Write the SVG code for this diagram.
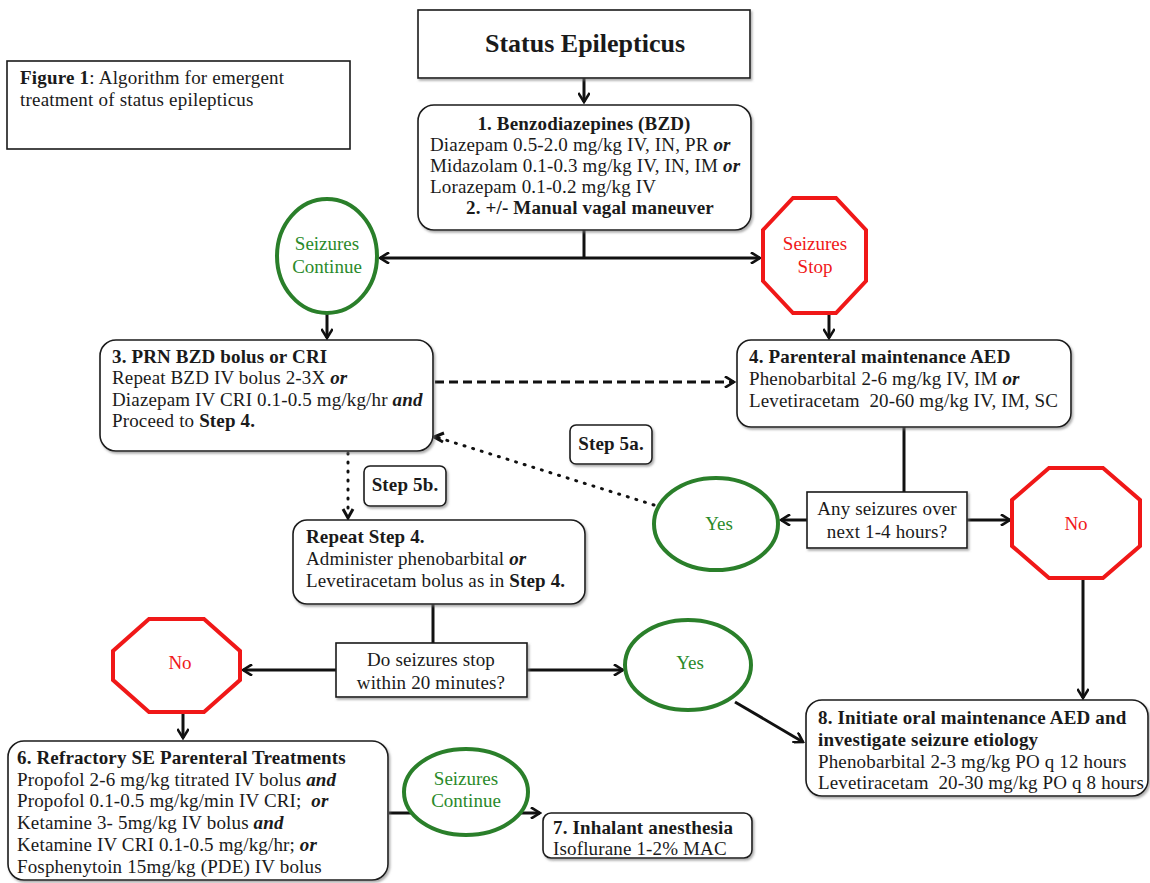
<svg xmlns="http://www.w3.org/2000/svg" width="1150" height="883" viewBox="0 0 1150 883">
<defs>
<style>
text{font-family:"Liberation Serif","Times New Roman",serif;fill:#1a1a1a;}
.t{font-size:19px;letter-spacing:0.15px;}
.pre{white-space:pre;}
.b{font-weight:bold;}
.bi{font-weight:bold;font-style:italic;}
.box{fill:#fff;stroke:#1a1a1a;stroke-width:1.6;filter:url(#sh);}
.plain{fill:#fff;stroke:#1a1a1a;stroke-width:1.6;}
.go{fill:#fff;stroke:#2a7f2a;stroke-width:4;}
.stop{fill:#fff;stroke:#f01818;stroke-width:4;}
.gt{fill:#2a8a2a;font-size:19px;}
.rt{fill:#f01818;font-size:19px;}
.c{fill:none;stroke:#111;stroke-width:3;}
.dash{stroke-dasharray:9 5;}
.dot{stroke-dasharray:1 8;stroke-linecap:round;}
</style>
<filter id="sh" x="-10%" y="-10%" width="120%" height="130%">
<feDropShadow dx="1.5" dy="2" stdDeviation="1" flood-color="#777" flood-opacity="0.6"/>
</filter>
<marker id="ah" viewBox="0 0 12 12" refX="10" refY="6" markerWidth="4" markerHeight="4" orient="auto-start-reverse" markerUnits="strokeWidth">
<path d="M2,1 L10,6 L2,11" fill="none" stroke="#111" stroke-width="2.6" stroke-linecap="square"/>
</marker>
</defs>

<g id="figure-caption">
<rect x="7" y="61" width="343" height="88" class="plain"/>
<text x="20" y="84" style="font-size:19px;letter-spacing:0.2px"><tspan class="b">Figure 1</tspan>: Algorithm for emergent</text>
<text x="20" y="106" style="font-size:19px;letter-spacing:0.2px">treatment of status epilepticus</text>
</g>

<g id="connectors">
<line x1="584" y1="78" x2="584" y2="102" class="c" marker-end="url(#ah)"/>
<line x1="584" y1="230" x2="584" y2="258" class="c"/>
<line x1="380" y1="258" x2="760" y2="258" class="c" marker-start="url(#ah)" marker-end="url(#ah)"/>
<line x1="327" y1="314" x2="327" y2="338" class="c" marker-end="url(#ah)"/>
<line x1="829" y1="314" x2="829" y2="338" class="c" marker-end="url(#ah)"/>
<line x1="435" y1="382" x2="734" y2="382" class="c dash" marker-end="url(#ah)"/>
<line x1="654" y1="505" x2="436" y2="437" class="c dot"/>
<path d="M444,433 L434,437 L443,442" fill="none" stroke="#111" stroke-width="3"/>
<line x1="348" y1="453" x2="348" y2="510" class="c dot"/>
<path d="M343,509 L348,518 L353,509" fill="none" stroke="#111" stroke-width="3"/>
<line x1="904" y1="427" x2="904" y2="492" class="c"/>
<line x1="807" y1="520" x2="781" y2="520" class="c" marker-end="url(#ah)"/>
<line x1="967" y1="520" x2="1010" y2="520" class="c" marker-end="url(#ah)"/>
<line x1="1083" y1="579" x2="1083" y2="698" class="c" marker-end="url(#ah)"/>
<line x1="433" y1="604" x2="433" y2="643" class="c"/>
<line x1="336" y1="670" x2="243" y2="670" class="c" marker-end="url(#ah)"/>
<line x1="527" y1="670" x2="623" y2="670" class="c" marker-end="url(#ah)"/>
<line x1="735" y1="702" x2="803" y2="742" class="c" marker-end="url(#ah)"/>
<line x1="183" y1="713" x2="183" y2="738" class="c" marker-end="url(#ah)"/>
<line x1="389" y1="813" x2="540" y2="813" class="c" marker-end="url(#ah)"/>
</g>

<g id="status-epilepticus">
<rect x="418" y="10" width="332" height="68" class="box"/>
<text x="585" y="52" text-anchor="middle" class="b" style="font-size:26px">Status Epilepticus</text>
</g>

<g id="step1">
<rect x="418" y="105" width="333" height="125" rx="16" class="box"/>
<text x="584" y="130" text-anchor="middle" class="t b">1. Benzodiazepines (BZD)</text>
<text x="430" y="151" class="t">Diazepam 0.5-2.0 mg/kg IV, IN, PR <tspan class="bi">or</tspan></text>
<text x="430" y="172" class="t">Midazolam 0.1-0.3 mg/kg IV, IN, IM <tspan class="bi">or</tspan></text>
<text x="430" y="193" class="t">Lorazepam 0.1-0.2 mg/kg IV</text>
<text x="590" y="214" text-anchor="middle" class="t b">2. +/- Manual vagal maneuver</text>
</g>

<g id="seizures-continue-1">
<ellipse cx="327" cy="256" rx="50" ry="57" class="go"/>
<text x="327" y="250" text-anchor="middle" class="gt">Seizures</text>
<text x="327" y="273" text-anchor="middle" class="gt">Continue</text>
</g>

<g id="seizures-stop">
<polygon points="793,198 836,198 866,230 866,281 836,313 793,313 763,281 763,230" class="stop"/>
<text x="815" y="250" text-anchor="middle" class="rt">Seizures</text>
<text x="815" y="273" text-anchor="middle" class="rt">Stop</text>
</g>

<g id="step3">
<rect x="100" y="340" width="333" height="111" rx="16" class="box"/>
<text x="112" y="363" class="t b">3. PRN BZD bolus or CRI</text>
<text x="112" y="384" class="t">Repeat BZD IV bolus 2-3X <tspan class="bi">or</tspan></text>
<text x="112" y="406" class="t">Diazepam IV CRI 0.1-0.5 mg/kg/hr <tspan class="bi">and</tspan></text>
<text x="112" y="427" class="t">Proceed to <tspan class="b">Step 4.</tspan></text>
</g>

<g id="step4">
<rect x="737" y="340" width="334" height="87" rx="14" class="box"/>
<text x="749" y="363" class="t b">4. Parenteral maintenance AED</text>
<text x="749" y="385" class="t">Phenobarbital 2-6 mg/kg IV, IM <tspan class="bi">or</tspan></text>
<text x="749" y="407" class="t pre">Levetiracetam  20-60 mg/kg IV, IM, SC</text>
</g>

<g id="step5a-label">
<rect x="570" y="425" width="82" height="39" rx="6" class="box"/>
<text x="611" y="450" text-anchor="middle" class="t b">Step 5a.</text>
</g>

<g id="step5b-label">
<rect x="364" y="466" width="82" height="40" rx="6" class="box"/>
<text x="405" y="491" text-anchor="middle" class="t b">Step 5b.</text>
</g>

<g id="decision-1">
<rect x="807" y="492" width="160" height="56" class="box"/>
<text x="887" y="515" text-anchor="middle" class="t">Any seizures over</text>
<text x="887" y="538" text-anchor="middle" class="t">next 1-4 hours?</text>
</g>

<g id="yes-1">
<ellipse cx="716" cy="524" rx="62" ry="46" class="go"/>
<text x="719" y="530" text-anchor="middle" class="gt">Yes</text>
</g>

<g id="no-1">
<polygon points="1049,468 1103,468 1140,500 1140,546 1103,578 1049,578 1012,546 1012,500" class="stop"/>
<text x="1076" y="530" text-anchor="middle" class="rt">No</text>
</g>

<g id="repeat-step4">
<rect x="293" y="520" width="292" height="84" rx="14" class="box"/>
<text x="306" y="543" class="t b">Repeat Step 4.</text>
<text x="306" y="565" class="t">Administer phenobarbital <tspan class="bi">or</tspan></text>
<text x="306" y="587" class="t">Levetiracetam bolus as in <tspan class="b">Step 4.</tspan></text>
</g>

<g id="decision-2">
<rect x="336" y="643" width="191" height="54" class="box"/>
<text x="431" y="666" text-anchor="middle" class="t">Do seizures stop</text>
<text x="431" y="689" text-anchor="middle" class="t">within 20 minutes?</text>
</g>

<g id="no-2">
<polygon points="149,619 204,619 240,651 240,680 204,712 149,712 113,680 113,651" class="stop"/>
<text x="180" y="669" text-anchor="middle" class="rt">No</text>
</g>

<g id="yes-2">
<ellipse cx="688" cy="665" rx="63" ry="45" class="go"/>
<text x="690" y="669" text-anchor="middle" class="gt">Yes</text>
</g>

<g id="step6">
<rect x="8" y="741" width="380" height="139" rx="16" class="box"/>
<text x="17" y="764" class="t b">6. Refractory SE Parenteral Treatments</text>
<text x="17" y="786" class="t">Propofol 2-6 mg/kg titrated IV bolus <tspan class="bi">and</tspan></text>
<text x="17" y="807" class="t pre">Propofol 0.1-0.5 mg/kg/min IV CRI;  <tspan class="bi">or</tspan></text>
<text x="17" y="829" class="t">Ketamine 3- 5mg/kg IV bolus <tspan class="bi">and</tspan></text>
<text x="17" y="851" class="t">Ketamine IV CRI 0.1-0.5 mg/kg/hr; <tspan class="bi">or</tspan></text>
<text x="17" y="873" class="t">Fosphenytoin 15mg/kg (PDE) IV bolus</text>
</g>

<g id="seizures-continue-2">
<ellipse cx="466" cy="792" rx="62" ry="43" class="go"/>
<text x="466" y="785" text-anchor="middle" class="gt">Seizures</text>
<text x="466" y="807" text-anchor="middle" class="gt">Continue</text>
</g>

<g id="step7">
<rect x="543" y="813" width="209" height="45" rx="8" class="box"/>
<text x="553" y="834" class="t b">7. Inhalant anesthesia</text>
<text x="553" y="855" class="t">Isoflurane 1-2% MAC</text>
</g>

<g id="step8">
<rect x="806" y="700" width="342" height="96" rx="16" class="box"/>
<text x="818" y="724" class="t b">8. Initiate oral maintenance AED and</text>
<text x="818" y="746" class="t b">investigate seizure etiology</text>
<text x="818" y="768" class="t">Phenobarbital 2-3 mg/kg PO q 12 hours</text>
<text x="818" y="789" class="t pre">Levetiracetam  20-30 mg/kg PO q 8 hours</text>
</g>
</svg>
